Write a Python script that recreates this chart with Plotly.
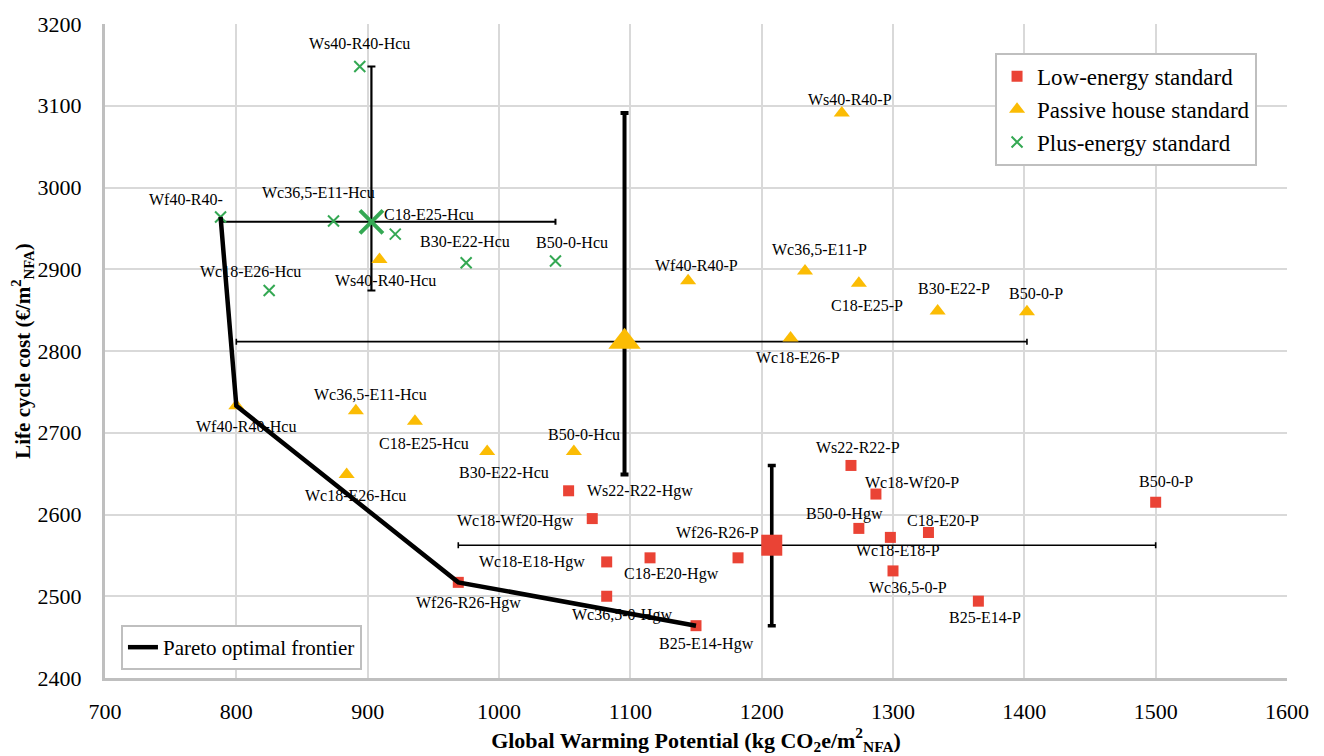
import numpy as np
import plotly.graph_objects as go

# ---- design variants: GWP (kg CO2e/m2 NFA) and life cycle cost (EUR/m2 NFA) ----
low_labels = ["Ws22-R22-Hgw", "Wc18-Wf20-Hgw", "Wc18-E18-Hgw", "C18-E20-Hgw",
              "Wc36,5-0-Hgw", "B25-E14-Hgw", "Wf26-R26-Hgw", "Wf26-R26-P",
              "Ws22-R22-P", "Wc18-Wf20-P", "B50-0-Hgw", "Wc18-E18-P",
              "C18-E20-P", "Wc36,5-0-P", "B25-E14-P", "B50-0-P"]
low_gwp = [1053, 1071, 1082, 1115, 1082, 1150, 969, 1182,
           1268, 1287, 1274, 1298, 1327, 1300, 1365, 1500]
low_lcc = [2629, 2595, 2542, 2547, 2500, 2464, 2517, 2547,
           2660, 2625, 2583, 2572, 2578, 2531, 2494, 2615]

passive_labels = ["Ws40-R40-P", "Wf40-R40-P", "Wc36,5-E11-P", "C18-E25-P",
                  "B30-E22-P", "B50-0-P", "Wc18-E26-P", "Wf40-R40-Hcu",
                  "Wc36,5-E11-Hcu", "C18-E25-Hcu", "B30-E22-Hcu", "B50-0-Hcu",
                  "Wc18-E26-Hcu", "Ws40-R40-Hcu"]
passive_gwp = [1261, 1144, 1233, 1274, 1334, 1402, 1222, 800,
               891, 936, 991, 1057, 884, 909]
passive_lcc = [3091, 2886, 2898, 2883, 2849, 2848, 2816, 2733,
               2727, 2714, 2677, 2677, 2649, 2912]

plus_labels = ["Ws40-R40-Hcu", "Wf40-R40-", "Wc36,5-E11-Hcu", "C18-E25-Hcu",
               "B30-E22-Hcu", "B50-0-Hcu", "Wc18-E26-Hcu"]
plus_gwp = [894, 788, 874, 921, 975, 1043, 825]
plus_lcc = [3148, 2964, 2959, 2943, 2908, 2910, 2874]

# designs that form the Pareto optimal frontier (series, label)
pareto_designs = [("plus", "Wf40-R40-"), ("passive", "Wf40-R40-Hcu"),
                  ("low", "Wf26-R26-Hgw"), ("low", "B25-E14-Hgw")]

# ---- label placement (pixel offsets from the marker: right, down) ----
low_label_offsets = [(71, 0), (-77, 2), (-75, 0), (21, 16), (15, 19), (10, 18),
                     (10, 21), (-21, -25), (7, -18), (36, -12), (-14, -14),
                     (8, 13), (15, -12), (15, 17), (7, 16), (10, -21)]
passive_label_offsets = [(8, -14), (8, -15), (14, -21), (8, 22), (16, -22),
                         (9, -18), (7, 20), (10, 21), (15, -16), (9, 22),
                         (17, 21), (10, -17), (9, 21), (6, 21)]
plus_label_offsets = [(0, -23), (-35, -17), (-15, -29), (34, -20), (-1, -21),
                      (17, -19), (-19, -19)]

RED, YELLOW, GREEN = "#EA4335", "#FBBC04", "#34A853"
FONT = "Liberation Serif"

series = {
    "low": dict(name="Low-energy standard", labels=low_labels, x=low_gwp,
                y=low_lcc, offsets=low_label_offsets, color=RED,
                symbol="square", size=11, big=21, lw=0,
                ex_th=1.6, ey_th=3.6),
    "passive": dict(name="Passive house standard", labels=passive_labels,
                    x=passive_gwp, y=passive_lcc, offsets=passive_label_offsets,
                    color=YELLOW, symbol="triangle-up", size=14, big=28, lw=0,
                    ex_th=1.6, ey_th=4),
    "plus": dict(name="Plus-energy standard", labels=plus_labels, x=plus_gwp,
                 y=plus_lcc, offsets=plus_label_offsets, color=GREEN,
                 symbol="x-thin-open", size=11, big=23, lw=2,
                 ex_th=2, ey_th=2.2),
}

fig = go.Figure()

# mean of each standard with min-max ranges as error bars
for key in ["plus", "passive", "low"]:
    s = series[key]
    xs, ys = np.array(s["x"], float), np.array(s["y"], float)
    mx, my = xs.mean(), ys.mean()
    marker = dict(color=s["color"], symbol=s["symbol"], size=s["big"])
    if key == "plus":
        marker["line"] = dict(color=s["color"], width=4)
    fig.add_trace(go.Scatter(
        x=[mx], y=[my], mode="markers", marker=marker, showlegend=False,
        hoverinfo="skip",
        error_x=dict(type="data", symmetric=False, array=[xs.max() - mx],
                     arrayminus=[mx - xs.min()], color="black",
                     thickness=s["ex_th"], width=3),
        error_y=dict(type="data", symmetric=False, array=[ys.max() - my],
                     arrayminus=[my - ys.min()], color="black",
                     thickness=s["ey_th"], width=4),
    ))

# individual design variants
for key in ["low", "passive", "plus"]:
    s = series[key]
    marker = dict(color=s["color"], symbol=s["symbol"], size=s["size"])
    if s["lw"]:
        marker["line"] = dict(color=s["color"], width=s["lw"])
    fig.add_trace(go.Scatter(
        x=s["x"], y=s["y"], mode="markers", name=s["name"], marker=marker,
        text=s["labels"], legend="legend",
    ))

# Pareto optimal frontier
px_, py_ = [], []
for key, lab in pareto_designs:
    s = series[key]
    i = s["labels"].index(lab)
    px_.append(s["x"][i])
    py_.append(s["y"][i])
fig.add_trace(go.Scatter(x=px_, y=py_, mode="lines",
                         line=dict(color="black", width=4.5),
                         name="Pareto optimal frontier", legend="legend2"))

# point labels
for key in ["plus", "passive", "low"]:
    s = series[key]
    for lab, x, y, (dx, dy) in zip(s["labels"], s["x"], s["y"], s["offsets"]):
        fig.add_annotation(x=x, y=y, text=lab, showarrow=False,
                           xshift=dx, yshift=-dy,
                           font=dict(family=FONT, size=16, color="black"))

axis_common = dict(showgrid=True, gridcolor="#D9D9D9", gridwidth=1.5,
                   showline=True, linecolor="#BFBFBF", linewidth=3,
                   zeroline=False, ticks="",
                   tickfont=dict(family=FONT, size=22, color="black"))

fig.update_layout(
    width=1324, height=756,
    margin=dict(l=105, r=37, t=23, b=70),
    paper_bgcolor="white", plot_bgcolor="white",
    font=dict(family=FONT, color="black"),
    xaxis=dict(range=[700, 1600], dtick=100, ticklabelstandoff=12,
               title=dict(text="<b>Global Warming Potential (kg CO<sub>2</sub>e/m<sup>2</sup><sub>NFA</sub>)</b>",
                          font=dict(family=FONT, size=22), standoff=4),
               **axis_common),
    yaxis=dict(range=[2400, 3200], dtick=100, ticklabelstandoff=16,
               title=dict(text="<b>Life cycle cost (€/m<sup>2</sup><sub>NFA</sub>)</b>",
                          font=dict(family=FONT, size=21), standoff=2),
               **axis_common),
    legend=dict(x=0.753, y=0.956, xanchor="left", yanchor="top",
                bgcolor="white", bordercolor="#BFBFBF", borderwidth=2,
                font=dict(family=FONT, size=23), tracegroupgap=0),
    legend2=dict(x=0.0135, y=0.081, xanchor="left", yanchor="top",
                 bgcolor="white", bordercolor="#BFBFBF", borderwidth=2,
                 font=dict(family=FONT, size=21)),
    showlegend=True,
)

fig.write_html("out.html")
